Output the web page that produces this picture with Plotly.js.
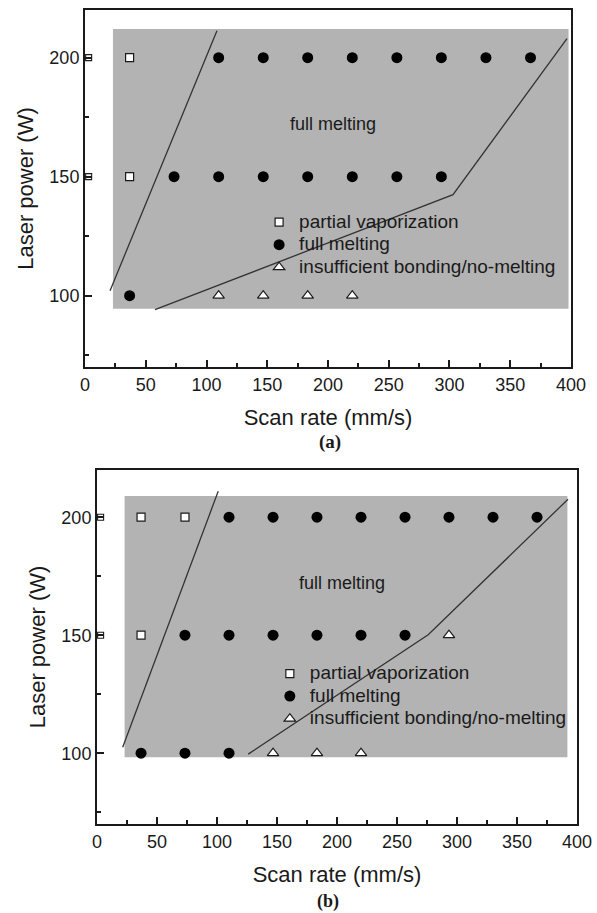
<!DOCTYPE html>
<html>
<head>
<meta charset="utf-8">
<script src="https://cdn.plot.ly/plotly-3.0.1.min.js"></script>
<style>html,body{margin:0;padding:0;background:#fff;}#chart{width:597px;height:913px;}</style>
</head>
<body>
<div id="chart"></div>
<script>
// ---------- data: panel (a) ----------
const a_vap_x = [36.7, 36.7];
const a_vap_y = [200, 150];
const a_full_x = [110, 146.7, 183.3, 220, 256.7, 293.3, 330, 366.7, 73.3, 110, 146.7, 183.3, 220, 256.7, 293.3, 36.7];
const a_full_y = [200, 200, 200, 200, 200, 200, 200, 200, 150, 150, 150, 150, 150, 150, 150, 100];
const a_ins_x = [110, 146.7, 183.3, 220];
const a_ins_y = [100, 100, 100, 100];
const a_line1_x = [20.6, 108.6];
const a_line1_y = [102.1, 211.3];
const a_line2_x = [57.6, 302.9, 396.7];
const a_line2_y = [94.1, 142.4, 208];
const a_region_x = [23, 398];
const a_region_y = [94.5, 212];

// ---------- data: panel (b) ----------
const b_vap_x = [36.7, 73.3, 36.7];
const b_vap_y = [200, 200, 150];
const b_full_x = [110, 146.7, 183.3, 220, 256.7, 293.3, 330, 366.7, 73.3, 110, 146.7, 183.3, 220, 256.7, 36.7, 73.3, 110];
const b_full_y = [200, 200, 200, 200, 200, 200, 200, 200, 150, 150, 150, 150, 150, 150, 100, 100, 100];
const b_ins_x = [293.3, 146.7, 183.3, 220];
const b_ins_y = [150, 100, 100, 100];
const b_line1_x = [21.4, 101];
const b_line1_y = [102.5, 211];
const b_line2_x = [126, 276, 392.5];
const b_line2_y = [99.6, 150.2, 207.6];
const b_region_x = [23, 392];
const b_region_y = [98.3, 209];

// small open marks sitting just inside the power axis (both panels)
const edge_x = [3, 3];
const edge_y = [200, 150];

const seriesNames = ['partial vaporization', 'full melting', 'insufficient bonding/no-melting'];
const regionLabel = 'full melting';
const regionLabelPos_a = [204, 172];
const regionLabelPos_b = [204, 172];
const xTicks = [0, 50, 100, 150, 200, 250, 300, 350, 400];
const yTicks = [100, 150, 200];
const xTitle = 'Scan rate (mm/s)';
const yTitle = 'Laser power (W)';
const panelLabels = ['(a)', '(b)'];

const FONT = 'Liberation Sans, Arial, sans-serif';
const INK = '#1a1a1a';

function legName(s) { return '<span style="font-size:19px">' + s + '</span>'; }

function markerTraces(vx, vy, fx, fy, ix, iy, xa, ya, leg) {
  return [
    {x: vx, y: vy, xaxis: xa, yaxis: ya, legend: leg, name: legName(seriesNames[0]), type: 'scatter', mode: 'markers',
     marker: {symbol: 'square', size: 8, color: '#ffffff', line: {color: INK, width: 1.2}}},
    {x: fx, y: fy, xaxis: xa, yaxis: ya, legend: leg, name: legName(seriesNames[1]), type: 'scatter', mode: 'markers',
     marker: {symbol: 'circle', size: 11, color: '#000000', line: {width: 0}}},
    {x: ix, y: iy, xaxis: xa, yaxis: ya, legend: leg, name: legName(seriesNames[2]), type: 'scatter', mode: 'markers',
     marker: {symbol: 'triangle-up', size: 10, color: '#ffffff', line: {color: INK, width: 1.2}}}
  ];
}
function lineTrace(x, y, xa, ya) {
  return {x: x, y: y, xaxis: xa, yaxis: ya, type: 'scatter', mode: 'lines', showlegend: false,
          hoverinfo: 'skip', line: {color: '#333333', width: 1.3}};
}
function edgeTrace(xa, ya) {
  return {x: edge_x, y: edge_y, xaxis: xa, yaxis: ya, type: 'scatter', mode: 'markers', showlegend: false,
          hoverinfo: 'skip', marker: {symbol: 'square', size: 6, color: '#ffffff', line: {color: INK, width: 1.1}}};
}

const traces = [
  lineTrace(a_line1_x, a_line1_y, 'x', 'y'),
  lineTrace(a_line2_x, a_line2_y, 'x', 'y'),
  lineTrace(b_line1_x, b_line1_y, 'x2', 'y2'),
  lineTrace(b_line2_x, b_line2_y, 'x2', 'y2'),
  edgeTrace('x', 'y'),
  edgeTrace('x2', 'y2'),
  ...markerTraces(a_vap_x, a_vap_y, a_full_x, a_full_y, a_ins_x, a_ins_y, 'x', 'y', 'legend'),
  ...markerTraces(b_vap_x, b_vap_y, b_full_x, b_full_y, b_ins_x, b_ins_y, 'x2', 'y2', 'legend2')
];

const tickFont = {family: FONT, size: 18, color: INK};

function xAxis(domain, anchor) {
  return {domain: domain, anchor: anchor, range: [0, 400], tickmode: 'array', tickvals: xTicks, ticktext: xTicks.map(String),
    showgrid: false, zeroline: false, showline: true, mirror: true, linecolor: INK, linewidth: 2,
    ticks: 'inside', ticklen: 7, tickwidth: 2, tickcolor: INK,
    minor: {ticks: 'inside', ticklen: 4, tickwidth: 2, tickcolor: INK, dtick: 25, showgrid: false},
    tickfont: tickFont,
    title: {text: xTitle, font: {family: FONT, size: 22, color: INK}, standoff: 16}};
}
function yAxis(domain, anchor) {
  return {domain: domain, anchor: anchor, range: [70, 220], tickmode: 'array', tickvals: yTicks, ticktext: yTicks.map(String),
    showgrid: false, zeroline: false, showline: true, mirror: true, linecolor: INK, linewidth: 2,
    ticks: 'inside', ticklen: 7, tickwidth: 2, tickcolor: INK,
    minor: {ticks: 'inside', ticklen: 4, tickwidth: 2, tickcolor: INK, dtick: 25, showgrid: false},
    tickfont: tickFont,
    title: {text: yTitle, font: {family: FONT, size: 22, color: INK}, standoff: 10}};
}
function legendBox(x, y) {
  return {x: x, y: y, xanchor: 'left', yanchor: 'top', bgcolor: 'rgba(0,0,0,0)', borderwidth: 0,
    font: {family: FONT, size: 15, color: INK}, tracegroupgap: 0};
}

const layout = {
  width: 597, height: 913,
  margin: {l: 0, r: 0, t: 0, b: 0},
  paper_bgcolor: '#ffffff', plot_bgcolor: '#ffffff',
  showlegend: true,
  xaxis: xAxis([0.1424, 0.9564], 'y'),
  yaxis: yAxis([0.598, 0.989], 'x'),
  xaxis2: xAxis([0.1625, 0.9665], 'y2'),
  yaxis2: yAxis([0.0975, 0.4852], 'x2'),
  legend: legendBox(0.434, 0.7745),
  legend2: legendBox(0.452, 0.2800),
  shapes: [
    {type: 'rect', xref: 'x', yref: 'y', x0: a_region_x[0], x1: a_region_x[1], y0: a_region_y[0], y1: a_region_y[1],
     fillcolor: '#b3b3b3', line: {width: 0}, layer: 'below'},
    {type: 'rect', xref: 'x2', yref: 'y2', x0: b_region_x[0], x1: b_region_x[1], y0: b_region_y[0], y1: b_region_y[1],
     fillcolor: '#b3b3b3', line: {width: 0}, layer: 'below'}
  ],
  annotations: [
    {xref: 'x', yref: 'y', x: regionLabelPos_a[0], y: regionLabelPos_a[1], text: regionLabel, showarrow: false,
     font: {family: FONT, size: 18, color: INK}},
    {xref: 'x2', yref: 'y2', x: regionLabelPos_b[0], y: regionLabelPos_b[1], text: regionLabel, showarrow: false,
     font: {family: FONT, size: 18, color: INK}},
    {xref: 'paper', yref: 'paper', x: 0.553, y: 0.516, text: '<b>' + panelLabels[0] + '</b>', showarrow: false,
     xanchor: 'center', yanchor: 'middle', font: {family: 'Liberation Serif, Times New Roman, serif', size: 19, color: INK}},
    {xref: 'paper', yref: 'paper', x: 0.549, y: 0.0, text: '<b>' + panelLabels[1] + '</b>', showarrow: false,
     xanchor: 'center', yanchor: 'bottom', borderpad: 0, font: {family: 'Liberation Serif, Times New Roman, serif', size: 18, color: INK}}
  ]
};

Plotly.newPlot('chart', traces, layout, {displayModeBar: false, staticPlot: true});
</script>
</body>
</html>
